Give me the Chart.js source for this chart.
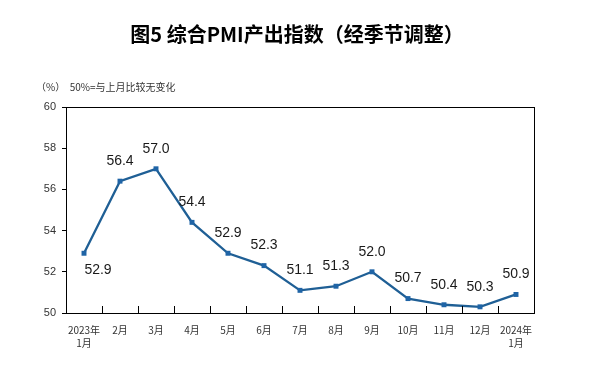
<!DOCTYPE html>
<html>
<head>
<meta charset="utf-8">
<script src="https://cdn.jsdelivr.net/npm/chart.js@4.4.1/dist/chart.umd.min.js"></script>
<style>
  html, body { margin: 0; padding: 0; background: #fff; }
  #wrap { width: 592px; height: 370px; position: relative; }
</style>
</head>
<body>
<div id="wrap"><canvas id="graficoPMI"></canvas></div>
<script>
const meses = [['2023年', '1月'], '2月', '3月', '4月', '5月', '6月', '7月', '8月', '9月', '10月', '11月', '12月', ['2024年', '1月']];
const valoresPMI = [52.9, 56.4, 57.0, 54.4, 52.9, 52.3, 51.1, 51.3, 52.0, 50.7, 50.4, 50.3, 50.9];
const ticksY = [50, 52, 54, 56, 58, 60];

const titulo = '图5 综合PMI产出指数（经季节调整）';
const subtitulo = '（%）  50%=与上月比较无变化';

// marco, marcas del eje x hacia dentro, etiquetas y textos
const extras = {
    id: 'extras',
    afterDraw(chart) {
        const ctx = chart.ctx;
        const area = chart.chartArea;
        const x = chart.scales.x;
        ctx.save();
        ctx.strokeStyle = '#000';
        ctx.lineWidth = 1;
        ctx.strokeRect(Math.round(area.left) + 0.5, Math.round(area.top) + 0.5,
            Math.round(area.right - area.left), Math.round(area.bottom - area.top));

        // marcas hacia arriba en los límites entre categorías
        ctx.beginPath();
        for (let i = 1; i < meses.length; i++) {
            const px = Math.round((x.getPixelForValue(i - 1) + x.getPixelForValue(i)) / 2) + 0.5;
            ctx.moveTo(px, area.bottom);
            ctx.lineTo(px, area.bottom - 7);
        }
        ctx.stroke();

        // etiquetas de datos
        const meta = chart.getDatasetMeta(0);
        ctx.fillStyle = '#1a1a1a';
        ctx.font = '14px "Liberation Sans", Arial, sans-serif';
        ctx.textAlign = 'center';
        ctx.textBaseline = 'middle';
        meta.data.forEach((pt, i) => {
            const txt = valoresPMI[i].toFixed(1);
            if (i === 0) {
                ctx.fillText(txt, pt.x + 14, pt.y + 17);
            } else {
                ctx.fillText(txt, pt.x, pt.y - 20);
            }
        });

        // título y subtítulo
        ctx.fillStyle = '#000';
        ctx.font = 'bold 20px "Noto Sans CJK SC", sans-serif';
        ctx.textAlign = 'center';
        ctx.fillText(titulo, 297, 34);
        ctx.fillStyle = '#333';
        ctx.font = '10px "Noto Sans CJK SC", sans-serif';
        ctx.textAlign = 'left';
        ctx.fillText(subtitulo, 36, 87);
        ctx.restore();
    }
};

const ctx = document.getElementById('graficoPMI').getContext('2d');

new Chart(ctx, {
    type: 'line',
    data: {
        labels: meses,
        datasets: [{
            label: '综合PMI产出指数',
            data: valoresPMI,
            borderColor: '#1f5f95',
            backgroundColor: '#1f64a6',
            borderWidth: 2.3,
            pointStyle: 'rect',
            pointRadius: 3.5,
            pointBorderWidth: 0,
            tension: 0
        }]
    },
    options: {
        responsive: true,
        maintainAspectRatio: false,
        animation: false,
        layout: {
            padding: { left: 0, top: 107, right: 58, bottom: 0 }
        },
        scales: {
            y: {
                min: 50,
                max: 60,
                afterFit: scale => { scale.width = 66; },
                afterBuildTicks: scale => { scale.ticks = ticksY.map(v => ({ value: v })); },
                grid: {
                    drawOnChartArea: false,
                    tickLength: 4,
                    color: '#000'
                },
                border: { color: '#000', width: 1 },
                ticks: {
                    color: '#333',
                    padding: 6,
                    font: { family: '"Liberation Sans", Arial, sans-serif', size: 11 }
                }
            },
            x: {
                offset: true,
                afterFit: scale => { scale.height = 57; },
                grid: {
                    display: false
                },
                border: { color: '#000', width: 1 },
                ticks: {
                    color: '#333',
                    padding: 2,
                    maxRotation: 0,
                    autoSkip: false,
                    font: { family: '"Noto Sans CJK SC", sans-serif', size: 10, lineHeight: 1.35 }
                }
            }
        },
        plugins: {
            legend: { display: false },
            tooltip: { enabled: false }
        }
    },
    plugins: [extras]
});
</script>
</body>
</html>
